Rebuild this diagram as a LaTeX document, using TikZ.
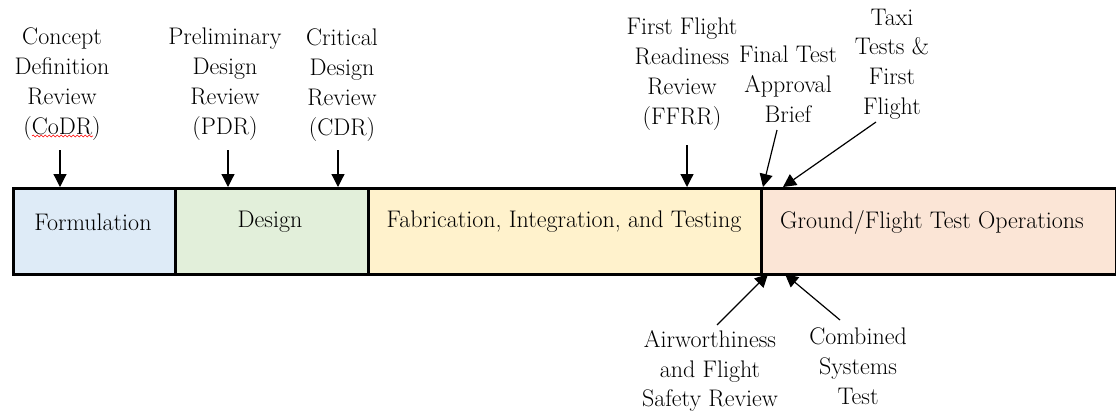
\documentclass[tikz,border=0pt]{standalone}
\usetikzlibrary{arrows.meta,decorations.pathmorphing}
\definecolor{cblue}{RGB}{222,235,247}
\definecolor{cgreen}{RGB}{226,239,218}
\definecolor{cyellow}{RGB}{255,242,204}
\definecolor{cpink}{RGB}{251,229,214}
\tikzset{
  phase/.style={draw=black, line width=2.8pt, anchor=north west, inner sep=0pt, minimum height=86pt},
  phlabel/.style={font=\fontsize{24}{28}\selectfont, inner sep=0pt},
  mlabel/.style={font=\fontsize{24}{29.8}\selectfont, align=center, inner sep=0pt},
  arr/.style={line width=1.2pt, -{Triangle[length=13pt,width=13pt]}},
}
\begin{document}
\begin{tikzpicture}[x=1pt,y=-1pt]
\useasboundingbox (0,0) rectangle (1116,413);
% phases
\node[phase, fill=cblue, minimum width=162pt] (form) at (12,187) {};
\node[phase, fill=cgreen, minimum width=193pt] (des) at (174,187) {};
\node[phase, fill=cyellow, minimum width=393pt] (fab) at (367,187) {};
\node[phase, fill=cpink, minimum width=355pt] (gft) at (760,187) {};
\node[phlabel] (formt) at (93,222) {Formulation};
\node[phlabel] (dest) at (270,222) {Design};
\node[phlabel] (fabt) at (564,222) {Fabrication, Integration, and Testing};
\node[phlabel] (gftt) at (932,222) {Ground/Flight Test Operations};
% milestone labels
\node[mlabel] (codr) at (62,84) {Concept\\Definition\\Review\\(CoDR)};
\node[mlabel] (pdr) at (225,84) {Preliminary\\Design\\Review\\(PDR)};
\node[mlabel] (cdr) at (342,85) {Critical\\Design\\Review\\(CDR)};
\node[mlabel] (ffrr) at (682,74) {First Flight\\Readiness\\Review\\(FFRR)};
\node[mlabel] (ftab) at (788,84) {Final Test\\Approval\\Brief};
\node[mlabel] (taxi) at (892,64) {Taxi\\Tests \&\\First\\Flight};
\node[mlabel] (afsr) at (710,371) {Airworthiness\\and Flight\\Safety Review};
\node[mlabel] (cst) at (858,366) {Combined\\Systems\\Test};
% spell-check underline
\draw[red, line width=0.6pt, decorate, decoration={snake, amplitude=0.9pt, segment length=4pt}] (32,136) -- (93,136);
% arrow coordinates
\coordinate (s1) at (60,150);  \coordinate (t1) at (60,187);
\coordinate (s2) at (228,150); \coordinate (t2) at (228,187);
\coordinate (s3) at (338,150); \coordinate (t3) at (338,187);
\coordinate (s4) at (687,145); \coordinate (t4) at (687,187);
\coordinate (s5) at (777,130); \coordinate (t5) at (763,187);
\coordinate (s6) at (876,122); \coordinate (t6) at (783,187);
\coordinate (s7) at (717,325); \coordinate (t7) at (768,274);
\coordinate (s8) at (840,320); \coordinate (t8) at (785,274);
\draw[arr] (s1) -- (t1);
\draw[arr] (s2) -- (t2);
\draw[arr] (s3) -- (t3);
\draw[arr] (s4) -- (t4);
\draw[arr] (s5) -- (t5);
\draw[arr] (s6) -- (t6);
\draw[arr] (s7) -- (t7);
\draw[arr] (s8) -- (t8);
\end{tikzpicture}
\end{document}
